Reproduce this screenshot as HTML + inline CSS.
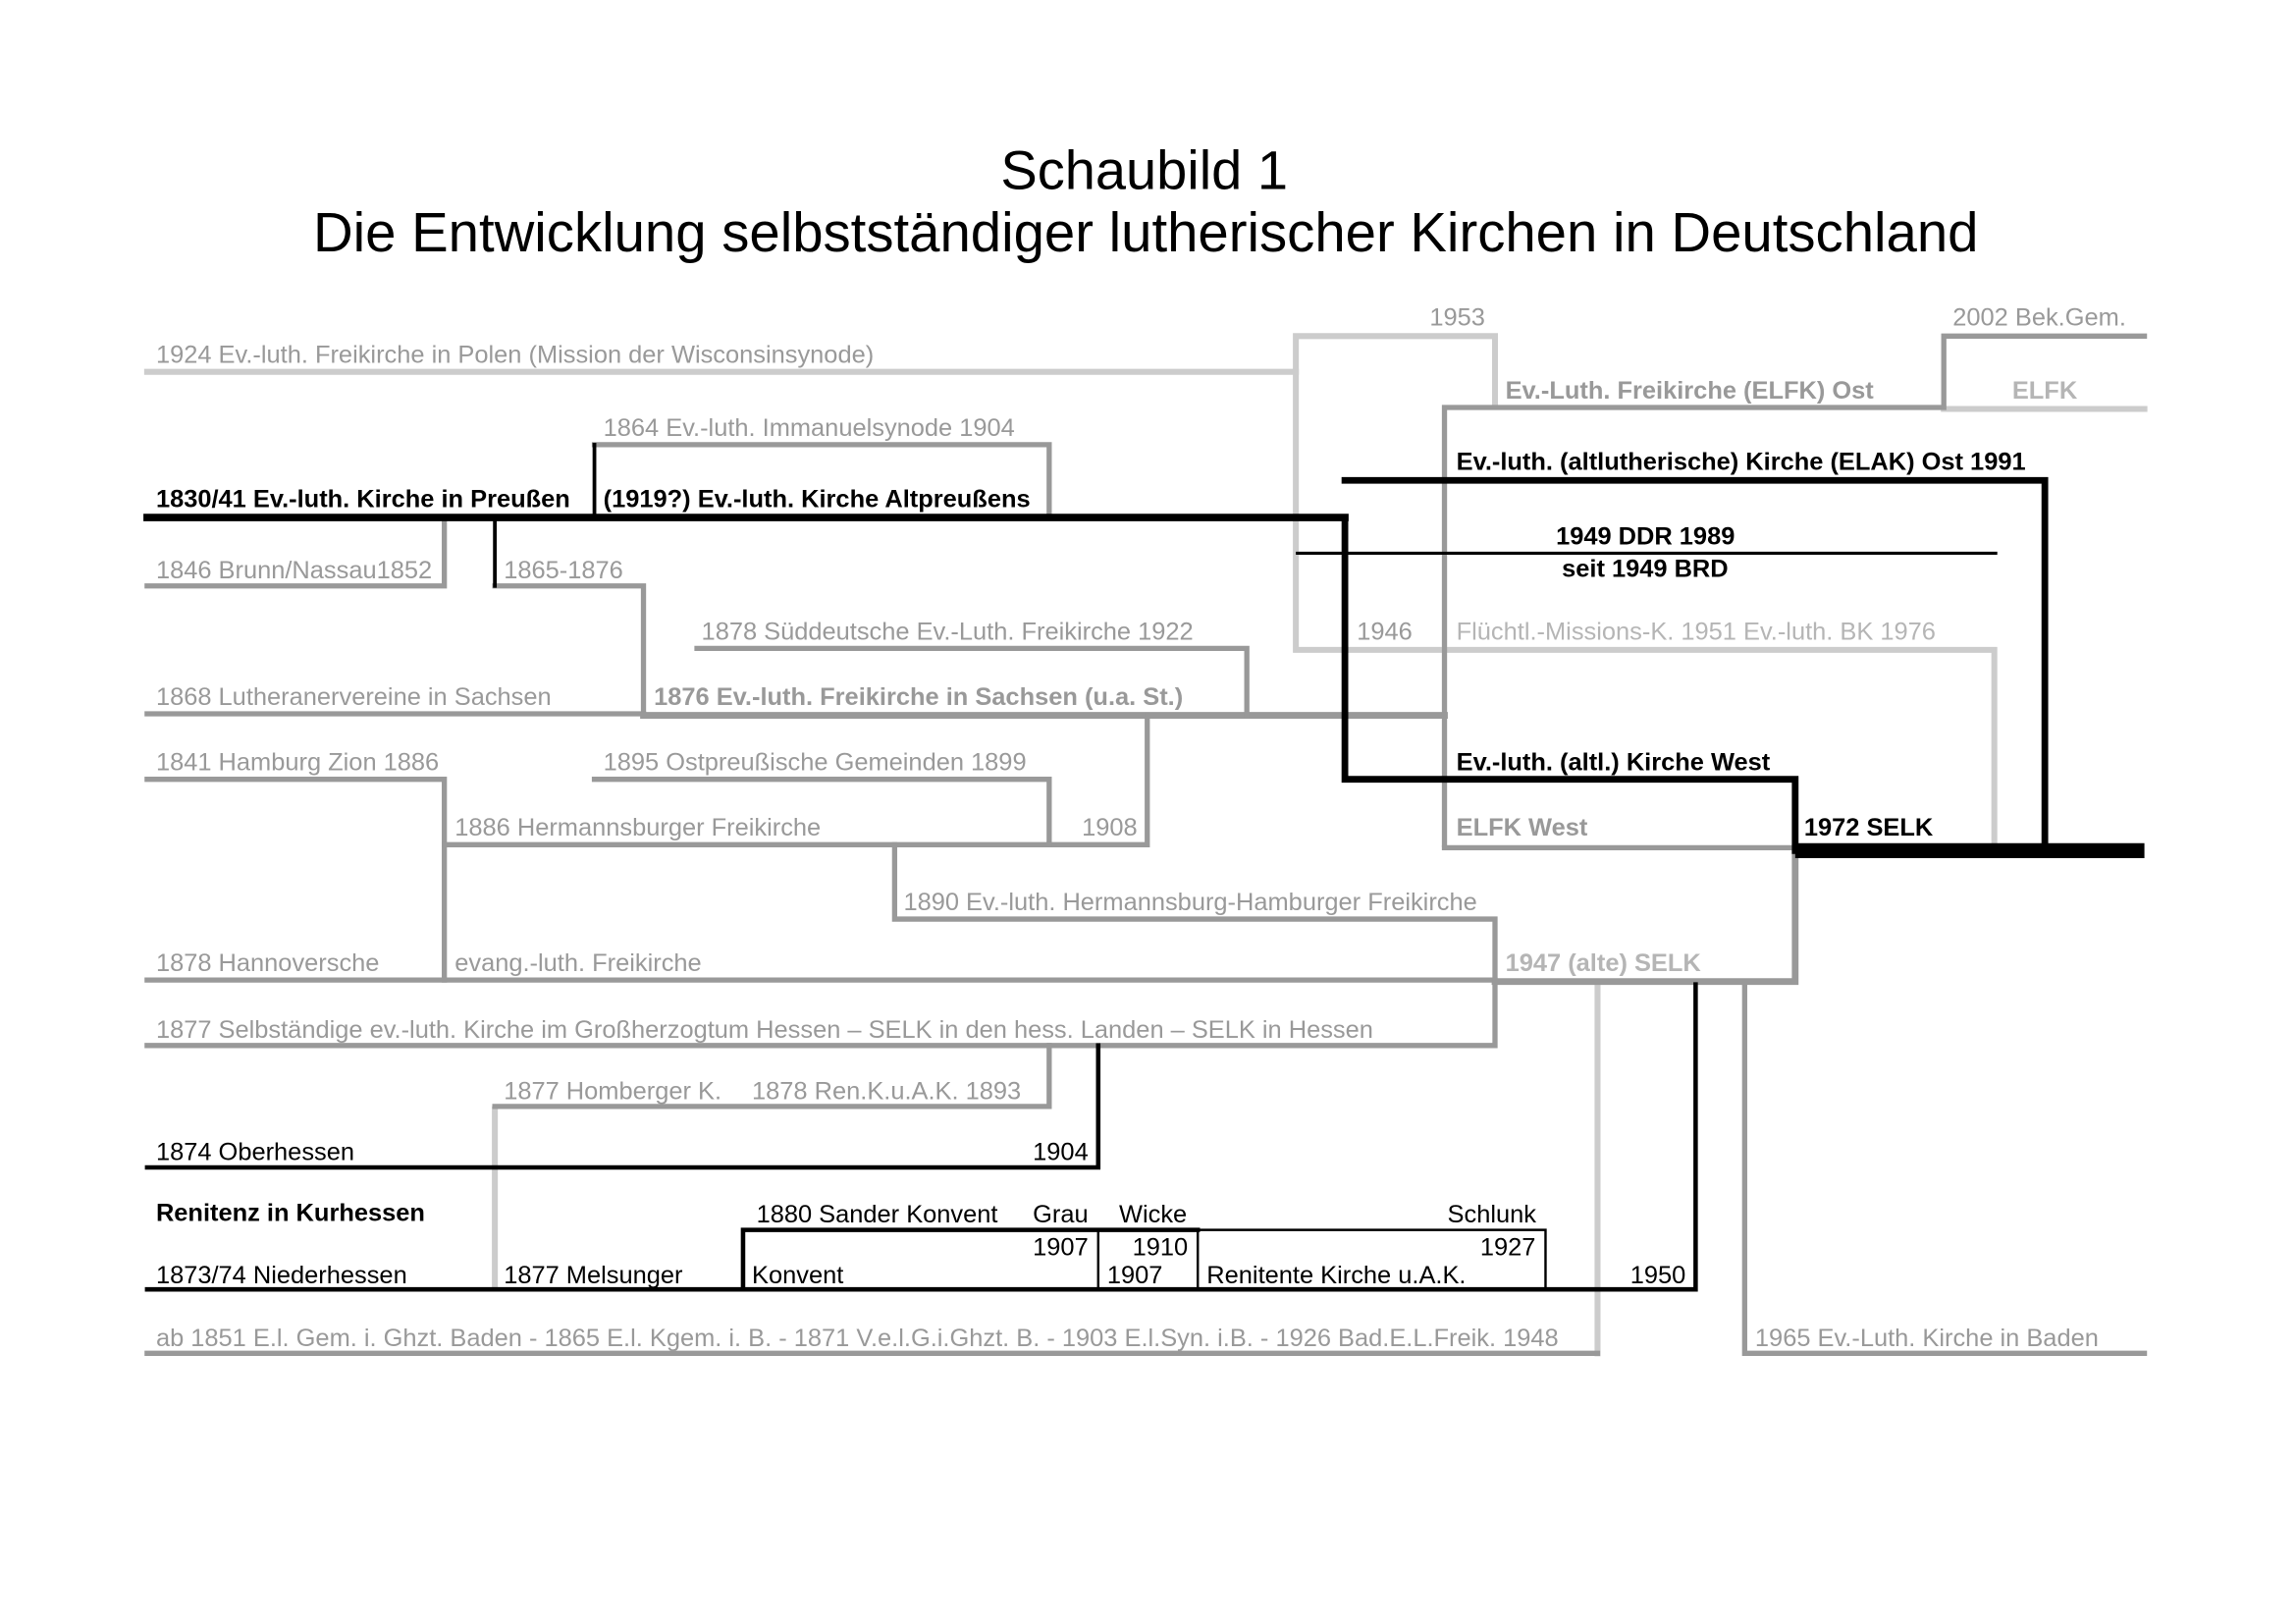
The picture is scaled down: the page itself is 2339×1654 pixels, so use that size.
<!DOCTYPE html>
<html><head><meta charset="utf-8"><style>
html,body{margin:0;padding:0;background:#fff}
svg{display:block}
text{font-family:"Liberation Sans",Arial,sans-serif;font-size:16.8px}
.g{fill:#999}
.k{fill:#000}
.b{font-weight:bold}
.lg{fill:#b5b5b5}
</style></head><body>
<svg width="2339" height="1654" viewBox="0 0 1545 1092" preserveAspectRatio="none" xmlns="http://www.w3.org/2000/svg">
<rect width="1545" height="1092" fill="#fff"/>
<text x="770" y="127" text-anchor="middle" style="font-size:37px" class="k">Schaubild 1</text>
<text x="771" y="169" text-anchor="middle" style="font-size:37.2px" class="k">Die Entwicklung selbstständiger lutherischer Kirchen in Deutschland</text>

<g fill="none" stroke-linecap="square">
<g stroke="#cccccc" stroke-width="4">
<polyline points="99,250 872,250"/>
<polyline points="1006,272 1006,226 872,226 872,437 1342,437 1342,567"/>
<polyline points="1308,275 1443,275"/>
<polyline points="333,746 333,866"/>
<polyline points="1075,662 1075,910"/>
</g>
<g stroke="#999999" stroke-width="3.5">
<polyline points="972,568 972,274 1308,274 1308,226 1443,226"/>
<polyline points="972,570 1208,570"/>
<polyline points="400,299 706,299 706,346"/>
<polyline points="99,394 299,394 299,350"/>
<polyline points="333,394 433,394 433,480"/>
<polyline points="99,480 433,480"/>
<polyline points="433,481 972,481" stroke-width="4.5"/>
<polyline points="469,436 839,436 839,481"/>
<polyline points="772,481 772,568 706,568"/>
<polyline points="99,524 299,524 299,659"/>
<polyline points="400,524 706,524 706,568"/>
<polyline points="299,568 706,568"/>
<polyline points="602,568 602,618 1006,618 1006,660"/>
<polyline points="99,659 1006,659"/>
<polyline points="1006,660 1208,660 1208,572" stroke-width="4.5"/>
<polyline points="99,703 1006,703 1006,660"/>
<polyline points="706,703 706,744 333,744"/>
<polyline points="99,910 1075,910"/>
<polyline points="1174,662 1174,910 1443,910"/>
</g>
<g stroke="#000">
<polyline points="99,348 905,348" stroke-width="5"/>
<polyline points="400,348 400,299" stroke-width="2.5"/>
<polyline points="333,350 333,394" stroke-width="2.5"/>
<polyline points="873,372 1343,372" stroke-width="2"/>
<polyline points="905,348 905,524 1208,524 1208,572" stroke-width="4.5"/>
<polyline points="905,323 1376,323 1376,571" stroke-width="4.5"/>
<line x1="1208" y1="572" x2="1443" y2="572" stroke-width="10" stroke-linecap="butt"/>
<polyline points="99,785 739,785 739,703" stroke-width="3"/>
<polyline points="99,867 1141,867 1141,662" stroke-width="3"/>
<polyline points="500,867 500,827 806,827" stroke-width="3"/>
<polyline points="806,827 1040,827 1040,867" stroke-width="1.6"/>
<line x1="739" y1="827" x2="739" y2="867" stroke-width="1.6"/>
<line x1="806" y1="827" x2="806" y2="867" stroke-width="1.6"/>
</g>
</g>

<text x="105" y="244" class="g">1924 Ev.-luth. Freikirche in Polen (Mission der Wisconsinsynode)</text>
<text x="962" y="219" class="g">1953</text>
<text x="1314" y="219" class="g">2002 Bek.Gem.</text>
<text x="1013" y="268" class="g b">Ev.-Luth. Freikirche (ELFK) Ost</text>
<text x="1354" y="268" class="lg b">ELFK</text>
<text x="406" y="293" class="g">1864  Ev.-luth. Immanuelsynode  1904</text>
<text x="980" y="316" class="k b">Ev.-luth. (altlutherische) Kirche (ELAK) Ost 1991</text>
<text x="105" y="341" class="k b">1830/41 Ev.-luth. Kirche in Preußen</text>
<text x="406" y="341" class="k b">(1919?) Ev.-luth. Kirche Altpreußens</text>
<text x="1047" y="366" class="k b">1949 DDR 1989</text>
<text x="1051" y="388" class="k b">seit 1949 BRD</text>
<text x="105" y="389" class="g">1846 Brunn/Nassau1852</text>
<text x="339" y="389" class="g">1865-1876</text>
<text x="472" y="430" class="g">1878 Süddeutsche Ev.-Luth. Freikirche 1922</text>
<text x="913" y="430" class="g">1946</text>
<text x="980" y="430" class="lg">Flüchtl.-Missions-K. 1951 Ev.-luth. BK 1976</text>
<text x="105" y="474" class="g">1868 Lutheranervereine in Sachsen</text>
<text x="440" y="474" class="g b">1876 Ev.-luth. Freikirche in Sachsen (u.a. St.)</text>
<text x="105" y="518" class="g">1841 Hamburg Zion 1886</text>
<text x="406" y="518" class="g">1895 Ostpreußische Gemeinden 1899</text>
<text x="980" y="518" class="k b">Ev.-luth. (altl.) Kirche West</text>
<text x="306" y="562" class="g">1886 Hermannsburger Freikirche</text>
<text x="728" y="562" class="g">1908</text>
<text x="980" y="562" class="g b">ELFK West</text>
<text x="1214" y="562" class="k b">1972 SELK</text>
<text x="608" y="612" class="g">1890 Ev.-luth. Hermannsburg-Hamburger Freikirche</text>
<text x="105" y="653" class="g">1878 Hannoversche</text>
<text x="306" y="653" class="g">evang.-luth. Freikirche</text>
<text x="1013" y="653" class="lg b">1947 (alte) SELK</text>
<text x="105" y="698" class="g">1877 Selbständige ev.-luth. Kirche im Großherzogtum Hessen – SELK in den hess. Landen – SELK in Hessen</text>
<text x="339" y="739" class="g">1877 Homberger K.</text>
<text x="506" y="739" class="g">1878 Ren.K.u.A.K. 1893</text>
<text x="105" y="780" class="k">1874  Oberhessen</text>
<text x="695" y="780" class="k">1904</text>
<text x="105" y="821" class="k b">Renitenz in Kurhessen</text>
<text x="509" y="822" class="k">1880 Sander Konvent</text>
<text x="695" y="822" class="k">Grau</text>
<text x="753" y="822" class="k">Wicke</text>
<text x="974" y="822" class="k">Schlunk</text>
<text x="695" y="844" class="k">1907</text>
<text x="762" y="844" class="k">1910</text>
<text x="996" y="844" class="k">1927</text>
<text x="105" y="863" class="k">1873/74 Niederhessen</text>
<text x="339" y="863" class="k">1877 Melsunger</text>
<text x="506" y="863" class="k">Konvent</text>
<text x="745" y="863" class="k">1907</text>
<text x="812" y="863" class="k">Renitente Kirche u.A.K.</text>
<text x="1097" y="863" class="k">1950</text>
<text x="105" y="905" class="g">ab 1851 E.l. Gem. i. Ghzt. Baden - 1865 E.l. Kgem. i. B. - 1871 V.e.l.G.i.Ghzt. B. - 1903 E.l.Syn. i.B. - 1926 Bad.E.L.Freik. 1948</text>
<text x="1181" y="905" class="g">1965 Ev.-Luth. Kirche in Baden</text>
</svg>
</body></html>
